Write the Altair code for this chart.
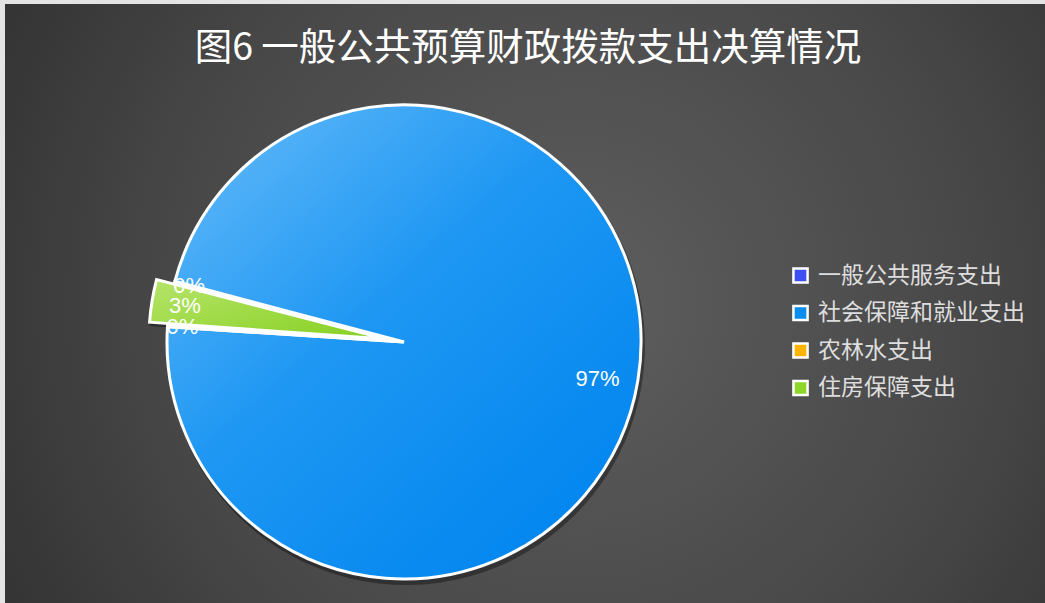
import math
import altair as alt
import pandas as pd

TITLE = "图6 一般公共预算财政拨款支出决算情况"
categories = ["一般公共服务支出", "社会保障和就业支出", "农林水支出", "住房保障支出"]
values = [0.1, 96.9, 0.1, 2.9]
colors = ["#3d4ef2", "#0a8cf0", "#ffb400", "#8fd62a"]

df = pd.DataFrame({"cat": categories, "value": values, "idx": list(range(len(categories)))})

START = math.radians(284.5)
theta_scale = alt.Scale(domain=[0, 100], range=[START, START + 2 * math.pi])
theta = alt.Theta("value:Q", stack=True, scale=theta_scale)
order = alt.Order("idx:Q")

W, H = 1040, 599
CX, CY, R = 399, 338, 237
EXP_DX, EXP_DY = -18, -3

blue_grad = alt.LinearGradient(
    gradient="linear", x1=0.1, y1=0.05, x2=0.85, y2=0.9,
    stops=[alt.GradientStop(offset=0, color="#5cb6f8"),
           alt.GradientStop(offset=0.45, color="#1e97f3"),
           alt.GradientStop(offset=1, color="#0286ef")])
green_grad = alt.LinearGradient(
    gradient="linear", x1=0, y1=0, x2=1, y2=1,
    stops=[alt.GradientStop(offset=0, color="#b6e46a"),
           alt.GradientStop(offset=1, color="#86d020")])
bg_grad = alt.RadialGradient(
    gradient="radial", x1=0.55, y1=0.5, r1=0, x2=0.55, y2=0.5, r2=0.72,
    stops=[alt.GradientStop(offset=0, color="#5e5e5e"),
           alt.GradientStop(offset=0.55, color="#474747"),
           alt.GradientStop(offset=1, color="#2b2b2b")])

is_green = "datum.cat === '住房保障支出'"
is_big = "datum.cat === '社会保障和就业支出'"

base = alt.Chart(df).transform_joinaggregate(total="sum(value)").transform_calculate(
    label="round(datum.value / datum.total * 100) + '%'"
)

pos = dict(x=alt.value(CX), y=alt.value(CY))

bg = alt.Chart(pd.DataFrame({"a": [0]})).mark_rect(fill=bg_grad, strokeWidth=0).encode(
    x=alt.value(0), x2=alt.value(W), y=alt.value(0), y2=alt.value(H))

shadow = base.mark_arc(outerRadius=R + 2, fill="black", xOffset=2, yOffset=4, strokeWidth=0).encode(
    theta=theta, order=order,
    opacity=alt.condition(is_green, alt.value(0), alt.value(0.35)), **pos)
shadow_g = base.mark_arc(outerRadius=R + 2, fill="black", xOffset=EXP_DX + 2, yOffset=EXP_DY + 4, strokeWidth=0).encode(
    theta=theta, order=order,
    opacity=alt.condition(is_green, alt.value(0.35), alt.value(0)), **pos)

legend_layer = base.mark_arc(outerRadius=0, innerRadius=0, strokeWidth=0).encode(
    theta=theta, order=order,
    color=alt.Color("cat:N", scale=alt.Scale(domain=categories, range=colors),
                    legend=alt.Legend(title=None, orient="none", legendX=784, legendY=260,
                                      symbolType="square", symbolSize=200,
                                      symbolStrokeColor="white", symbolStrokeWidth=2.5,
                                      symbolOpacity=1,
                                      labelFont="Noto Sans CJK SC", labelFontSize=23,
                                      labelColor="#dedede", labelOffset=6,
                                      labelLimit=400, rowPadding=12.5, padding=0)),
    **pos)

main = base.mark_arc(outerRadius=R, fill=blue_grad, stroke="white", strokeWidth=3).encode(
    theta=theta, order=order,
    opacity=alt.condition(is_green, alt.value(0), alt.value(1)), **pos)

green = base.mark_arc(outerRadius=R, fill=green_grad, stroke="white", strokeWidth=3,
                      xOffset=EXP_DX, yOffset=EXP_DY).encode(
    theta=theta, order=order,
    opacity=alt.condition(is_green, alt.value(1), alt.value(0)), **pos)

lbl_big = base.mark_text(radius=196, dy=5, font="Liberation Sans", fontSize=22, color="white").encode(
    theta=theta, order=order, text="label:N",
    opacity=alt.condition(is_big, alt.value(1), alt.value(0)), **pos)
lbl_small = base.mark_text(radius=222, font="Liberation Sans", fontSize=22, color="white").encode(
    theta=theta, order=order, text="label:N",
    opacity=alt.condition(is_big, alt.value(0), alt.value(1)), **pos)

title = alt.Chart(pd.DataFrame({"t": [TITLE]})).mark_text(
    font="Noto Sans CJK SC", fontSize=37.5, color="white", align="center", baseline="middle"
).encode(text="t:N", x=alt.value(523), y=alt.value(45))

chart = alt.layer(bg, shadow, shadow_g, legend_layer, main, green, lbl_big, lbl_small, title).properties(
    width=W, height=H, background="#e4e4e4",
    padding={"left": 5, "top": 4, "right": 0, "bottom": 0},
    autosize=alt.AutoSizeParams(type="none"),
).configure_view(stroke=None)

chart.save("out.html", embed_options={"renderer": "svg", "actions": False})
